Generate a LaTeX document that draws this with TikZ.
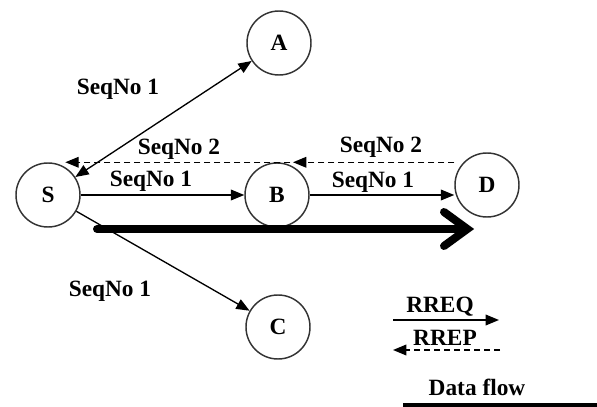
\documentclass[tikz,border=0pt]{standalone}
\usepackage{fontspec}
\setmainfont{Liberation Serif}
\usetikzlibrary{arrows.meta,calc}
\begin{document}
\begin{tikzpicture}[x=0.75pt,y=-0.75pt,
  font=\fontsize{17.5pt}{19pt}\selectfont\bfseries,
  station/.style={circle,draw=black!80,line width=1.1pt,minimum size=48pt,inner sep=0pt},
  lbl/.style={anchor=base,inner sep=0pt},
  rreq/.style={line width=1pt,-{Triangle[length=10pt,width=8pt]}},
  rrep/.style={line width=1pt,dash pattern=on 4.5pt off 3pt,-{Triangle[length=10pt,width=8pt]}},
  dataflow/.style={line width=6pt}]
\useasboundingbox (0,0) rectangle (597,407);
\node[station] (S) at (48,195) {S};
\node[station] (A) at (279,43) {A};
\node[station] (B) at (277,195) {B};
\node[station] (C) at (278,327) {C};
\node[station] (D) at (487,185) {D};
% connectors
\draw[rreq,{Triangle[length=10pt,width=8pt]}-{Triangle[length=10pt,width=8pt]}] (S) -- (A);
\draw[rreq] (S) -- (C);
\draw[rreq] (S) -- (B);
\draw[rreq] (B.east) -- (D.west |- B.east);
\draw[rrep] (D.west |- B.north) -- ([xshift=12pt]B.north);
\draw[rrep] ([xshift=10pt]B.north) -- ([xshift=13pt]S.north);
% data flow arrow
\coordinate (f1) at (97,229);
\coordinate (f2) at (462,229);
\coordinate (f3) at (444,212);
\coordinate (f4) at (444,246);
\draw[dataflow,line cap=round] (f1) -- (f2);
\draw[dataflow,line cap=round,line join=miter] (f3) -- ([xshift=4pt]f2) -- (f4);
% labels
\node[lbl] (l1) at (118,94) {SeqNo 1};
\node[lbl] (l2) at (179,154) {SeqNo 2};
\node[lbl] (l3) at (151,186) {SeqNo 1};
\node[lbl] (l4) at (381,152) {SeqNo 2};
\node[lbl] (l5) at (373,187) {SeqNo 1};
\node[lbl] (l6) at (110,296) {SeqNo 1};
% legend
\node[lbl] (q) at (440,312) {RREQ};
\node[lbl] (p) at (445,345) {RREP};
\node[lbl] (df) at (477,395) {Data flow};
\coordinate (q1) at (393,320);
\coordinate (q2) at (499,320);
\coordinate (p1) at (500,350);
\coordinate (p2) at (393,350);
\coordinate (d1) at (403,406);
\coordinate (d2) at (597,406);
\draw[rreq] (q1) -- (q2);
\draw[rrep] (p1) -- (p2);
\draw[line width=5pt] (d1) -- (d2);
\end{tikzpicture}
\end{document}
